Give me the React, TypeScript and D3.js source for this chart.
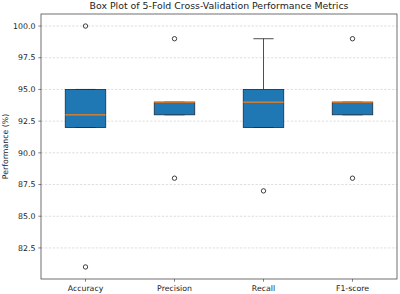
import React from "react";
import * as d3 from "d3";

// Per-fold scores (%) for each metric
const metrics = ["Accuracy", "Precision", "Recall", "F1-score"];
const accuracyFolds = [81, 92, 93, 95, 100];
const precisionFolds = [88, 93, 94, 94, 99];
const recallFolds = [87, 92, 94, 95, 99];
const f1Folds = [88, 93, 94, 94, 99];
const foldSeries = [accuracyFolds, precisionFolds, recallFolds, f1Folds];
const yTicks = [82.5, 85.0, 87.5, 90.0, 92.5, 95.0, 97.5, 100.0];

const W = 400;
const H = 294;
const left = 41;
const right = 397;
const top = 14;
const bottom = 279;
const FONT = "'DejaVu Sans', sans-serif";

type BoxStats = {
  q1: number;
  med: number;
  q3: number;
  lo: number;
  hi: number;
  outliers: number[];
};

function stats(values: number[]): BoxStats {
  const s = [...values].sort((a, b) => a - b);
  const q1 = d3.quantile(s, 0.25)!;
  const med = d3.quantile(s, 0.5)!;
  const q3 = d3.quantile(s, 0.75)!;
  const iqr = q3 - q1;
  const loFence = q1 - 1.5 * iqr;
  const hiFence = q3 + 1.5 * iqr;
  const inside = s.filter((v) => v >= loFence && v <= hiFence);
  const lo = d3.min(inside) ?? q1;
  const hi = d3.max(inside) ?? q3;
  const outliers = s.filter((v) => v < loFence || v > hiFence);
  return { q1, med, q3, lo, hi, outliers };
}

export default function App() {
  const all = foldSeries.flat();
  const [mn, mx] = d3.extent(all) as [number, number];
  const pad = (mx - mn) * 0.05;
  const y = d3.scaleLinear().domain([mn - pad, mx + pad]).range([bottom, top]);
  const x = d3.scaleLinear().domain([0.5, metrics.length + 0.5]).range([left, right]);
  const boxW = x(1.455) - x(1);
  const capW = boxW / 2;

  return (
    <svg
      width={W}
      height={H}
      style={{ position: "absolute", left: 0, top: 0, background: "#fff" }}
      fontFamily={FONT}
    >
      <rect x={0} y={0} width={W} height={H} fill="#fff" />
      {/* horizontal grid */}
      {yTicks.map((t) => (
        <line
          key={"g" + t}
          x1={left}
          x2={right}
          y1={y(t)}
          y2={y(t)}
          stroke="#c8c8c8"
          strokeWidth={0.6}
          strokeDasharray="2.3,1.6"
        />
      ))}
      {/* boxes */}
      {foldSeries.map((vals, i) => {
        const s = stats(vals);
        const cx = x(i + 1);
        return (
          <g key={metrics[i]}>
            <line x1={cx} x2={cx} y1={y(s.q3)} y2={y(s.hi)} stroke="#222" strokeWidth={0.8} />
            <line x1={cx} x2={cx} y1={y(s.q1)} y2={y(s.lo)} stroke="#222" strokeWidth={0.8} />
            <line x1={cx - capW / 2} x2={cx + capW / 2} y1={y(s.hi)} y2={y(s.hi)} stroke="#222" strokeWidth={0.8} />
            <line x1={cx - capW / 2} x2={cx + capW / 2} y1={y(s.lo)} y2={y(s.lo)} stroke="#222" strokeWidth={0.8} />
            <rect
              x={cx - boxW / 2}
              y={y(s.q3)}
              width={boxW}
              height={y(s.q1) - y(s.q3)}
              fill="#1f77b4"
              stroke="#1a2a3a"
              strokeWidth={0.8}
            />
            <line
              x1={cx - boxW / 2}
              x2={cx + boxW / 2}
              y1={y(s.med)}
              y2={y(s.med)}
              stroke="#ff7f0e"
              strokeWidth={1.2}
            />
            {s.outliers.map((o, k) => (
              <circle key={k} cx={cx} cy={y(o)} r={2.2} fill="none" stroke="#111" strokeWidth={0.8} />
            ))}
          </g>
        );
      })}
      {/* frame */}
      <rect x={left} y={top} width={right - left} height={bottom - top} fill="none" stroke="#333" strokeWidth={0.7} />
      {/* y axis */}
      {yTicks.map((t) => (
        <g key={"t" + t}>
          <line x1={left - 2.7} x2={left} y1={y(t)} y2={y(t)} stroke="#333" strokeWidth={0.6} />
          <text x={left - 5.6} y={y(t)} dy="0.35em" textAnchor="end" fontSize={7.8} fill="#222">
            {t.toFixed(1)}
          </text>
        </g>
      ))}
      {/* x axis */}
      {metrics.map((m, i) => (
        <g key={"x" + m}>
          <line x1={x(i + 1)} x2={x(i + 1)} y1={bottom} y2={bottom + 2.7} stroke="#333" strokeWidth={0.6} />
          <text x={x(i + 1)} y={bottom + 11.6} textAnchor="middle" fontSize={7.8} fill="#222">
            {m}
          </text>
        </g>
      ))}
      <text
        transform={`translate(7.8,${(top + bottom) / 2}) rotate(-90)`}
        textAnchor="middle"
        fontSize={7.8}
        fill="#222"
      >
        Performance (%)
      </text>
      <text x={(left + right) / 2} y={top - 4.6} textAnchor="middle" fontSize={9.4} fill="#222">
        Box Plot of 5-Fold Cross-Validation Performance Metrics
      </text>
    </svg>
  );
}
